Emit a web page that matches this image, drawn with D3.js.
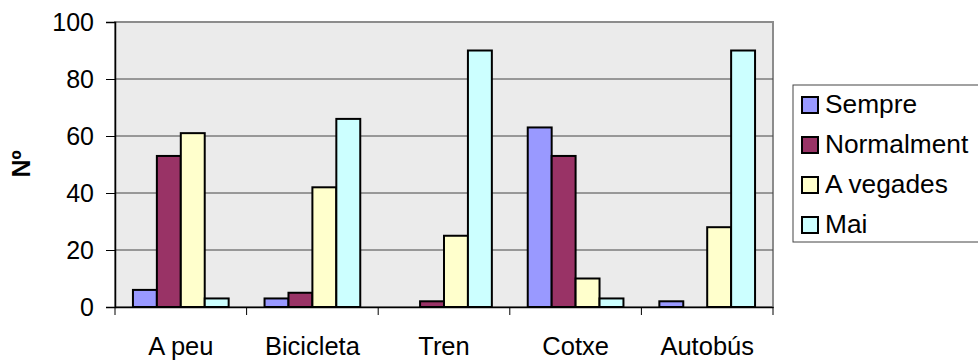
<!DOCTYPE html>
<html>
<head>
<meta charset="utf-8">
<script src="https://cdn.jsdelivr.net/npm/d3@7"></script>
<style>
  body { margin: 0; background: #fff; }
  svg { display: block; font-family: "Liberation Sans", Arial, sans-serif; }
</style>
</head>
<body>
<svg id="chart"></svg>
<script>
const w = 978;
const h = 363;

// data
const categories = ["A peu", "Bicicleta", "Tren", "Cotxe", "Autobús"];
const seriesNames = ["Sempre", "Normalment", "A vegades", "Mai"];
const sempre = [6, 3, 0, 63, 2];
const normalment = [53, 5, 2, 53, 0];
const aVegades = [61, 42, 25, 10, 28];
const mai = [3, 66, 90, 3, 90];
const yTicks = [0, 20, 40, 60, 80, 100];
const colors = ["#9999FF", "#993366", "#FFFFCC", "#CCFFFF"];

const seriesValues = [sempre, normalment, aVegades, mai];

const svg = d3.select("#chart")
  .attr("width", w)
  .attr("height", h);

const plot = { left: 115, right: 773, top: 22, bottom: 307 };

const x = d3.scaleBand()
  .domain(categories)
  .range([plot.left, plot.right]);

const barW = x.bandwidth() / 5.5;
const xInner = d3.scaleBand()
  .domain(seriesNames)
  .range([barW * 0.75, barW * 4.75]);

const y = d3.scaleLinear()
  .domain([0, 100])
  .range([plot.bottom, plot.top]);

const color = d3.scaleOrdinal().domain(seriesNames).range(colors);

// plot background
svg.append("rect")
  .attr("x", plot.left)
  .attr("y", plot.top)
  .attr("width", plot.right - plot.left)
  .attr("height", plot.bottom - plot.top)
  .attr("fill", "#EBEBEB")
  .attr("stroke", "#8c8c8c")
  .attr("stroke-width", 2);

// gridlines
svg.append("g")
  .selectAll("line")
  .data(yTicks.filter(d => d > 0 && d < 100))
  .enter()
  .append("line")
  .attr("x1", plot.left)
  .attr("x2", plot.right)
  .attr("y1", d => y(d))
  .attr("y2", d => y(d))
  .attr("stroke", "#444")
  .attr("stroke-width", 1);

// bars
const rows = [];
categories.forEach((c, i) => {
  seriesNames.forEach((s, j) => {
    rows.push({ cat: c, series: s, value: seriesValues[j][i] });
  });
});

svg.append("g")
  .selectAll("rect")
  .data(rows.filter(d => d.value > 0))
  .enter()
  .append("rect")
  .attr("x", d => x(d.cat) + xInner(d.series))
  .attr("y", d => y(d.value))
  .attr("width", xInner.bandwidth())
  .attr("height", d => y(0) - y(d.value))
  .attr("fill", d => color(d.series))
  .attr("stroke", "#000")
  .attr("stroke-width", 2);

// y axis
const yAxis = d3.axisLeft(y)
  .tickValues(yTicks)
  .tickSize(9)
  .tickPadding(12);

const gy = svg.append("g")
  .attr("transform", `translate(${plot.left},0)`)
  .call(yAxis);
gy.select(".domain").attr("stroke", "#000").attr("stroke-width", 1.5);
gy.selectAll(".tick line").attr("stroke", "#000");
gy.selectAll("text")
  .attr("font-size", 25)
  .attr("fill", "#000")
  .attr("font-family", "Liberation Sans, Arial, sans-serif");

// x axis
const xAxis = d3.axisBottom(x)
  .tickSize(0)
  .tickPadding(30);

const gx = svg.append("g")
  .attr("transform", `translate(0,${plot.bottom})`)
  .call(xAxis);
gx.select(".domain").attr("stroke", "#000").attr("stroke-width", 1.5);
gx.selectAll("text")
  .attr("font-size", 25.5)
  .attr("fill", "#000")
  .attr("font-family", "Liberation Sans, Arial, sans-serif");

// category separator ticks
gx.append("g")
  .selectAll("line")
  .data(categories.concat(["end"]))
  .enter()
  .append("line")
  .attr("x1", (d, i) => i < categories.length ? x(d) : plot.right)
  .attr("x2", (d, i) => i < categories.length ? x(d) : plot.right)
  .attr("y1", 0)
  .attr("y2", 8)
  .attr("stroke", "#000")
  .attr("stroke-width", 1);

// y title
svg.append("text")
  .attr("transform", "translate(30,164) rotate(-90)")
  .attr("text-anchor", "middle")
  .attr("font-size", 25)
  .attr("font-weight", "bold")
  .text("Nº");

// legend
const legend = svg.append("g");
legend.append("rect")
  .attr("x", 793)
  .attr("y", 85)
  .attr("width", 200)
  .attr("height", 157)
  .attr("fill", "#fff")
  .attr("stroke", "#444")
  .attr("stroke-width", 1);

const items = legend.selectAll("g.item")
  .data(seriesNames)
  .enter()
  .append("g")
  .attr("class", "item")
  .attr("transform", (d, i) => `translate(0,${113 + i * 40})`);

items.append("rect")
  .attr("x", 802)
  .attr("y", -16)
  .attr("width", 16)
  .attr("height", 16)
  .attr("fill", d => color(d))
  .attr("stroke", "#000")
  .attr("stroke-width", 2);

items.append("text")
  .attr("x", 825)
  .attr("y", 0)
  .attr("font-size", 26.3)
  .text(d => d);
</script>
</body>
</html>
